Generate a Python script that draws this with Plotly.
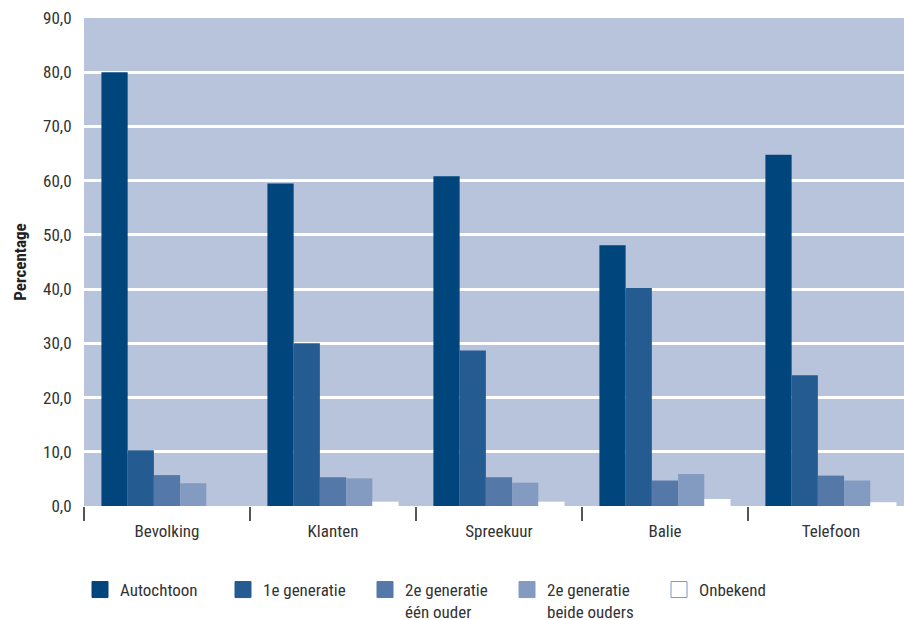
import plotly.graph_objects as go

categories = ["Bevolking", "Klanten", "Spreekuur", "Balie", "Telefoon"]
series_names = ["Autochtoon", "1e generatie", "2e generatie<br>één ouder", "2e generatie<br>beide ouders", "Onbekend"]
autochtoon = [80.0, 59.5, 60.8, 48.1, 64.8]
eerste_gen = [10.3, 30.0, 28.7, 40.2, 24.1]
tweede_een = [5.7, 5.3, 5.3, 4.7, 5.6]
tweede_beide = [4.2, 5.1, 4.3, 5.9, 4.7]
onbekend = [None, 0.8, 0.8, 1.3, 0.7]
y_ticks = [0, 10, 20, 30, 40, 50, 60, 70, 80, 90]

colors = ["#00457C", "#245C91", "#5479A9", "#839BC0", "#FFFFFF"]
values = [autochtoon, eerste_gen, tweede_een, tweede_beide, onbekend]
legend_ids = ["legend", "legend2", "legend3", "legend4", "legend5"]
legend_px = [80, 223, 365, 507, 659]  # left edge of each legend item (pixels)

FONT = "Liberation Sans Narrow, Roboto Condensed, Arial Narrow, Liberation Sans, sans-serif"
TXT = "#333333"
W, H = 904, 620

fig = go.Figure()
for name, vals, c in zip(series_names, values, colors):
    fig.add_trace(go.Bar(
        x=categories, y=vals, name=name, showlegend=False,
        marker=dict(color=c, line=dict(width=0)),
    ))
# legend entries (no data points of their own)
for name, c, lg in zip(series_names, colors, legend_ids):
    border = "#7F97BD" if c == "#FFFFFF" else c
    fig.add_trace(go.Scatter(
        x=[None], y=[None], mode="markers", name=name, legend=lg,
        marker=dict(symbol="square", size=16, color=c, line=dict(color=border, width=1)),
        hoverinfo="skip",
    ))

legends = {}
for lg, px in zip(legend_ids, legend_px):
    legends[lg] = dict(
        orientation="h", xref="container", yref="container",
        x=px / W, xanchor="left", y=1 - 572 / H, yanchor="top",
        valign="top", bgcolor="rgba(0,0,0,0)",
        font=dict(family=FONT, size=17, color=TXT),
        itemwidth=30, itemsizing="trace",
    )

fig.update_layout(
    width=W, height=H,
    margin=dict(l=84, r=0, t=18, b=114),
    paper_bgcolor="white",
    plot_bgcolor="#B8C4DC",
    barmode="group",
    bargap=0.21,
    bargroupgap=0,
    separators=",.",
    font=dict(family=FONT, size=17, color=TXT),
    showlegend=True,
    xaxis=dict(
        type="category",
        range=[-0.5, 4.44],
        showgrid=False,
        showline=False,
        ticks="outside", tickson="boundaries", ticklen=14, tickwidth=2, tickcolor="#555555",
        ticklabelstandoff=13,
        tickfont=dict(family=FONT, size=17, color=TXT),
    ),
    yaxis=dict(
        range=[0, 90],
        tickvals=y_ticks,
        tickformat=".1f",
        showgrid=True, gridcolor="white", gridwidth=3,
        zeroline=False,
        showline=False,
        ticks="outside", ticklen=8, tickcolor="rgba(0,0,0,0)",
        tickfont=dict(family=FONT, size=17, color=TXT),
        title=dict(text="<b>Percentage</b>", font=dict(family=FONT, size=17, color="#222222"), standoff=12),
    ),
    **legends,
)

fig.write_html(
    "out.html",
    config={"displayModeBar": False},
    post_script="document.body.style.margin='0px';document.body.style.overflow='hidden';document.documentElement.style.overflow='hidden';",
)
